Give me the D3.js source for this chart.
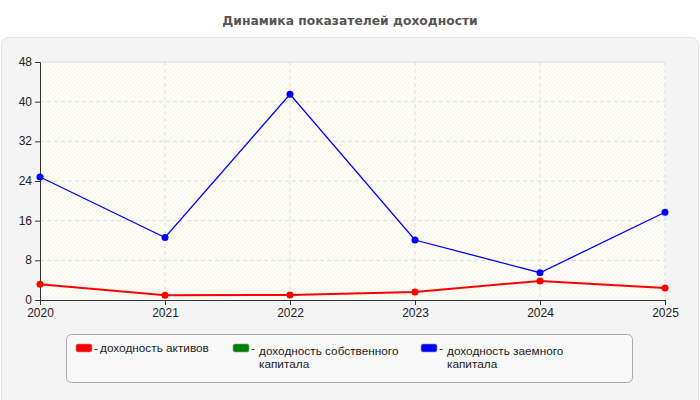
<!DOCTYPE html>
<html><head><meta charset="utf-8">
<script src="https://cdn.jsdelivr.net/npm/d3@7"></script>
<style>body{margin:0;background:#fff;}svg{display:block;font-family:"Liberation Sans",Arial,sans-serif;}</style>
</head><body>
<svg id="c" width="700" height="400"></svg>
<script>
const years = [2020, 2021, 2022, 2023, 2024, 2025];
const yTicks = [0, 8, 16, 24, 32, 40, 48];
const assetsReturn = [3.2, 0.95, 1.0, 1.6, 3.85, 2.4];
const equityReturn = [null, null, null, null, null, null];
const debtReturn = [24.8, 12.6, 41.5, 12.1, 5.5, 17.7];
const seriesNames = ["доходность активов", "доходность собственного капитала", "доходность заемного капитала"];
const seriesColors = ["#ff0000", "#008000", "#0000ff"];
const title = "Динамика показателей доходности";

const svg = d3.select("#c");
const defs = svg.append("defs");
const pat = defs.append("pattern").attr("id","hatch").attr("patternUnits","userSpaceOnUse")
  .attr("width",4).attr("height",4);
pat.append("rect").attr("width",4).attr("height",4).attr("fill","#fdfdf6");
pat.append("path").attr("d","M-1,1 l2,-2 M0,4 l4,-4 M3,5 l2,-2").attr("stroke","#f1f1ea").attr("stroke-width",0.7);

svg.append("text").attr("x",350).attr("y",25).attr("text-anchor","middle")
  .attr("font-family","DejaVu Sans, Verdana, sans-serif")
  .attr("font-size",12.3).attr("font-weight","bold").attr("fill","#555").text(title);

svg.append("rect").attr("x",1.5).attr("y",37.5).attr("width",697).attr("height",380).attr("rx",7)
  .attr("fill","#f4f4f4").attr("stroke","#e2e2e2");

const L=40,R=665,T=62,B=300;
const x = d3.scaleLinear().domain([2020,2025]).range([L,R]);
const y = d3.scaleLinear().domain([0,48]).range([B,T]);

svg.append("rect").attr("x",L).attr("y",T).attr("width",R-L).attr("height",B-T).attr("fill","url(#hatch)");

const g = svg.append("g");
g.selectAll(".hg").data(yTicks.filter(d=>d>0)).join("line")
  .attr("x1",L).attr("x2",R).attr("y1",d=>y(d)).attr("y2",d=>y(d))
  .attr("stroke","#ddd").attr("stroke-dasharray", d=> d===48 ? null : "4,3");
g.selectAll(".vg").data(years.slice(1)).join("line")
  .attr("x1",d=>x(d)).attr("x2",d=>x(d)).attr("y1",T).attr("y2",B)
  .attr("stroke","#ddd").attr("stroke-dasharray","4,3");

const yAxis = svg.append("g").attr("transform",`translate(${L},0)`)
  .call(d3.axisLeft(y).tickValues(yTicks).tickSize(5).tickPadding(3).tickFormat(d3.format("d")));
const xAxis = svg.append("g").attr("transform",`translate(0,${B})`)
  .call(d3.axisBottom(x).tickValues(years).tickSize(5).tickPadding(3).tickFormat(d3.format("d")));
[yAxis,xAxis].forEach(a=>{
  a.selectAll("path").attr("stroke","#333");
  a.selectAll("line").attr("stroke","#333");
  a.selectAll("text").attr("font-size",12).attr("fill","#222").attr("font-family","Liberation Sans, Arial, sans-serif");
});
yAxis.selectAll("text").attr("dy","0.3em");

const series = [assetsReturn, equityReturn, debtReturn];
const line = d3.line().defined(d=>d.v!=null).x(d=>x(d.x)).y(d=>y(d.v));
series.forEach((s,i)=>{
  const pts = years.map((yr,j)=>({x:yr,v:s[j]}));
  svg.append("path").datum(pts).attr("d",line).attr("fill","none")
    .attr("stroke",seriesColors[i]).attr("stroke-width", i===0?2:1.3);
  svg.selectAll(null).data(pts.filter(d=>d.v!=null)).join("circle")
    .attr("cx",d=>x(d.x)).attr("cy",d=>y(d.v)).attr("r",3.5).attr("fill",seriesColors[i]);
});

// legend
svg.append("rect").attr("x",66.5).attr("y",334.5).attr("width",566).attr("height",48).attr("rx",5)
  .attr("fill","#f8f8f8").attr("stroke","#aaa");
const legX = [76, 233, 421];
seriesNames.forEach((n,i)=>{
  const gx = legX[i];
  svg.append("rect").attr("x",gx).attr("y",344).attr("width",16).attr("height",8).attr("rx",2)
    .attr("fill",seriesColors[i]).attr("stroke","#999").attr("stroke-width",0.6);
  const words = n.split(" ");
  const lines = i===0 ? [n] : [words.slice(0,2).join(" "), words.slice(2).join(" ")];
  svg.append("text").attr("x",gx+18).attr("y",352).attr("font-size",11.8).attr("fill","#222").text("-");
  lines.forEach((ln,k)=>{
    svg.append("text").attr("font-size",11.8).attr("fill","#222")
      .attr("x", i===0 ? gx+24 : gx+26).attr("y", (i===0?352:355)+k*13).text(ln);
  });
});
</script>
</body></html>
